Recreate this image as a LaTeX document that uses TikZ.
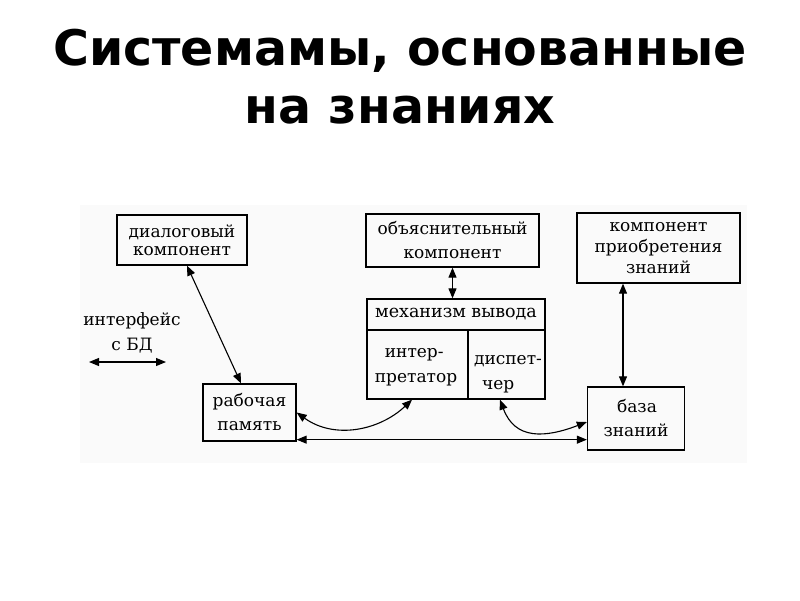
\documentclass[tikz,border=0pt]{standalone}
\usepackage{fontspec}
\setmainfont{DejaVu Serif}
\newfontfamily\titlefont{DejaVu Sans}
\usetikzlibrary{arrows.meta,calc}
\tikzset{
  box/.style={draw, line width=1.3pt, rectangle, inner sep=0pt, align=center,
    font=\fontsize{17}{24}\selectfont},
  cell/.style={draw, line width=1.3pt, rectangle, inner sep=0pt},
  celltext/.style={inner sep=0pt, align=left, font=\fontsize{17}{25}\selectfont},
  conn/.style={line width=1.1pt, {Triangle[length=10pt,width=8pt]}-{Triangle[length=10pt,width=8pt]}},
  ttl/.style={font=\titlefont\bfseries\fontsize{49}{58}\selectfont, align=center}
}
\begin{document}
\begin{tikzpicture}[x=1pt,y=-1pt]
\useasboundingbox (0,0) rectangle (800,600);
\fill[black!2] (80,205) rectangle (747,463);
\node[ttl, anchor=base] (title) at (400,123) {Системамы, основанные\\на знаниях};

\node[box, minimum width=130pt, minimum height=50pt, font=\fontsize{17}{18}\selectfont] (dlg) at (182,240) {диалоговый\\компонент};
\node[box, minimum width=173pt, minimum height=53pt] (expl) at (452.5,240.5) {объяснительный\\компонент};
\node[box, minimum width=163pt, minimum height=70pt, font=\fontsize{17}{21}\selectfont] (acq) at (658.5,248) {компонент\\приобретения\\знаний};
\node[box, minimum width=178pt, minimum height=31pt, font=\fontsize{17.5}{24}\selectfont] (mech) at (456,314.5) {механизм вывода};
\node[cell, minimum width=101pt, minimum height=69pt] (interp) at (417.5,364.5) {};
\node[cell, minimum width=77pt, minimum height=69pt] (disp) at (506.5,364.5) {};
\node[celltext] (interpT) at (416,367) {\hspace*{10pt}интер-\\претатор};
\node[celltext] (dispT) at (508,374) {диспет-\\\hspace*{8pt}чер};
\node[box, minimum width=93pt, minimum height=57pt] (wm) at (249.5,412.5) {рабочая\\память};
\node[box, minimum width=97pt, minimum height=63pt] (kb) at (636,418.5) {\hspace*{2pt}база\\знаний};
\node[align=center, font=\fontsize{17}{25}\selectfont] (iface) at (132,333) {интерфейс\\с БД};
\coordinate (ifl) at (89,362);
\coordinate (ifr) at (166,362);
\draw[conn] (ifl) -- (ifr);

\draw[conn] ([xshift=5pt]dlg.south) -- ([xshift=-8.5pt]wm.north);
\draw[conn] (expl.south) -- (expl.south |- mech.north);
\draw[conn] ([xshift=-35.5pt]acq.south) -- ([xshift=-13pt]kb.north);
\draw[conn] (wm.east) .. controls (335,440) and (380,430) .. ([xshift=-5.5pt]interp.south);
\draw[conn] ([xshift=-6.5pt]disp.south) .. controls (515,440) and (545,438) .. ([yshift=-3.5pt]kb.west);
\draw[conn] ([yshift=2pt]wm.south east) -- ([yshift=2pt]wm.south east -| kb.west);
\end{tikzpicture}
\end{document}
